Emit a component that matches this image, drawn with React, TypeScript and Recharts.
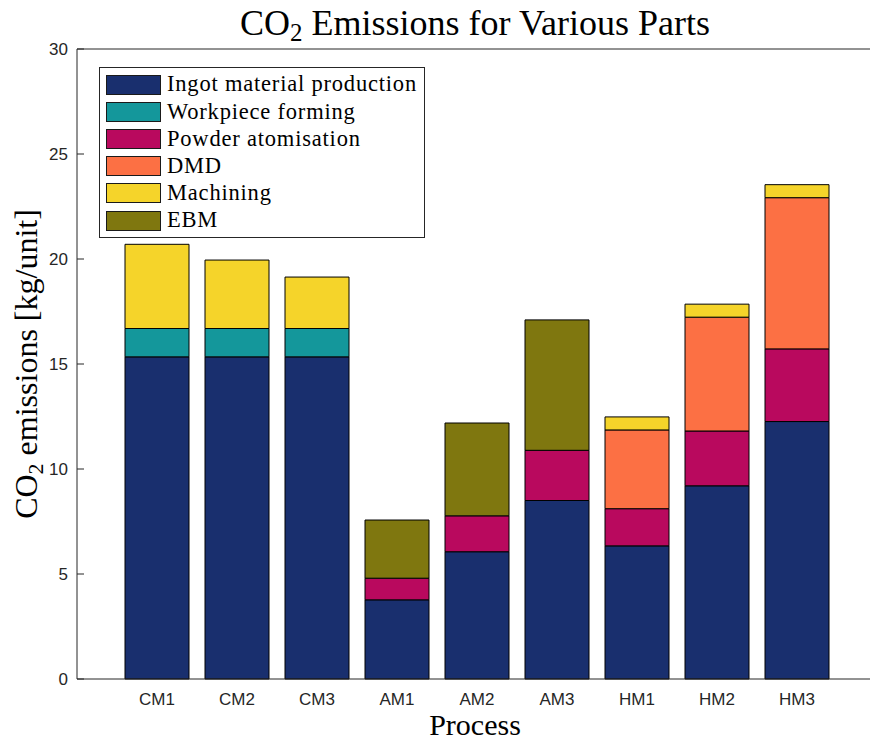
import { Bar, BarChart, Legend, XAxis, YAxis } from "recharts";

const categories = ["CM1", "CM2", "CM3", "AM1", "AM2", "AM3", "HM1", "HM2", "HM3"];

// kg CO2 per unit, stacked bottom to top
const ingotProduction = [15.34, 15.34, 15.34, 3.77, 6.06, 8.5, 6.34, 9.2, 12.26];
const workpieceForming = [1.35, 1.35, 1.35, 0, 0, 0, 0, 0, 0];
const powderAtomisation = [0, 0, 0, 1.03, 1.71, 2.39, 1.77, 2.61, 3.46];
const dmd = [0, 0, 0, 0, 0, 0, 3.75, 5.42, 7.2];
const machining = [4.01, 3.26, 2.45, 0, 0, 0, 0.62, 0.62, 0.62];
const ebm = [0, 0, 0, 2.77, 4.42, 6.21, 0, 0, 0];

const yTicks = [0, 5, 10, 15, 20, 25, 30];

const seriesNames = [
  "Ingot material production",
  "Workpiece forming",
  "Powder atomisation",
  "DMD",
  "Machining",
  "EBM",
];
const seriesValues = [ingotProduction, workpieceForming, powderAtomisation, dmd, machining, ebm];
const seriesColors = ["#192f6e", "#14979b", "#b9095e", "#fc7044", "#f5d42a", "#7f770f"];

const data = categories.map((name, i) => {
  const row: Record<string, string | number> = { name };
  seriesValues.forEach((vals, s) => {
    row["s" + s] = vals[i];
  });
  return row;
});

const serif = "'Liberation Serif', 'Times New Roman', serif";
const sans = "'Liberation Sans', Arial, Helvetica, sans-serif";
const axisColor = "#262626";

function TitleLabel(props: any) {
  const vb = props.viewBox;
  const cx = vb.x + vb.width / 2;
  return (
    <text x={cx} y={vb.y - 13} textAnchor="middle" fontFamily={serif} fontSize={36} fill="#000">
      <tspan>CO</tspan>
      <tspan dy={6} fontSize={25}>2</tspan>
      <tspan dy={-6}> Emissions for Various Parts</tspan>
    </text>
  );
}

function YLabel(props: any) {
  const vb = props.viewBox;
  const x = 37;
  const y = vb.y + vb.height / 2;
  return (
    <text
      x={x}
      y={y}
      textAnchor="middle"
      fontFamily={serif}
      fontSize={32}
      fill="#000"
      transform={`rotate(-90, ${x}, ${y})`}
    >
      <tspan>CO</tspan>
      <tspan dy={6} fontSize={22}>2</tspan>
      <tspan dy={-6}> emissions [kg/unit]</tspan>
    </text>
  );
}

function XLabel(props: any) {
  const vb = props.viewBox;
  return (
    <text
      x={vb.x + vb.width / 2}
      y={vb.y + 56}
      textAnchor="middle"
      fontFamily={serif}
      fontSize={30}
      fill="#000"
    >
      Process
    </text>
  );
}

function LegendBox() {
  return (
    <div
      style={{
        border: "1px solid " + axisColor,
        background: "#fff",
        padding: "3px 6px 3px 6px",
        boxSizing: "border-box",
        width: 326,
      }}
    >
      {seriesNames.map((n, i) => (
        <div key={n} style={{ display: "flex", alignItems: "center", height: 27.2 }}>
          <span
            style={{
              display: "inline-block",
              width: 55,
              height: 20,
              background: seriesColors[i],
              border: "1px solid #1a1a1a",
              boxSizing: "border-box",
              marginRight: 6,
              flexShrink: 0,
            }}
          />
          <span
            style={{
              fontFamily: serif,
              fontSize: 22.5,
              letterSpacing: 0.8,
              color: "#000",
              whiteSpace: "nowrap",
              lineHeight: 1,
            }}
          >
            {n}
          </span>
        </div>
      ))}
    </div>
  );
}

export default function App() {
  return (
    <div
      style={{
        position: "absolute",
        left: 0,
        top: 0,
        width: 870,
        height: 742,
        overflow: "hidden",
        background: "#fff",
      }}
    >
      <BarChart
        width={876}
        height={742}
        data={data}
        barSize={64}
        margin={{ top: 48, right: 2, bottom: 0, left: 0 }}
      >
        <XAxis
          dataKey="name"
          height={63}
          padding={{ left: 40, right: 36 }}
          tickLine={false}
          tickSize={0}
          tickMargin={14}
          axisLine={{ stroke: axisColor }}
          tick={{ fill: axisColor, fontSize: 17, fontFamily: sans }}
          label={XLabel}
        />
        <XAxis
          xAxisId="top"
          orientation="top"
          dataKey="name"
          height={1}
          padding={{ left: 40, right: 36 }}
          tick={false}
          tickSize={-7}
          tickLine={{ stroke: axisColor }}
          axisLine={{ stroke: axisColor }}
          label={TitleLabel}
        />
        <YAxis
          width={77}
          domain={[0, 30]}
          ticks={yTicks}
          tickSize={-7}
          tickMargin={16}
          interval={0}
          tickLine={{ stroke: axisColor }}
          axisLine={{ stroke: axisColor }}
          tick={{ fill: axisColor, fontSize: 17, fontFamily: sans }}
          label={YLabel}
        />
        <YAxis
          yAxisId="right"
          orientation="right"
          width={1}
          domain={[0, 30]}
          ticks={yTicks}
          interval={0}
          tick={false}
          tickSize={-7}
          tickLine={{ stroke: axisColor }}
          axisLine={{ stroke: axisColor }}
        />
        <Legend
          layout="vertical"
          align="center"
          verticalAlign="middle"
          content={LegendBox}
          wrapperStyle={{ left: 99, top: 67, width: 326 }}
        />
        {seriesNames.map((n, s) => (
          <Bar
            key={n}
            dataKey={"s" + s}
            name={n}
            stackId="a"
            fill={seriesColors[s]}
            stroke="#000"
            strokeWidth={1}
            isAnimationActive={false}
          />
        ))}
      </BarChart>
    </div>
  );
}
